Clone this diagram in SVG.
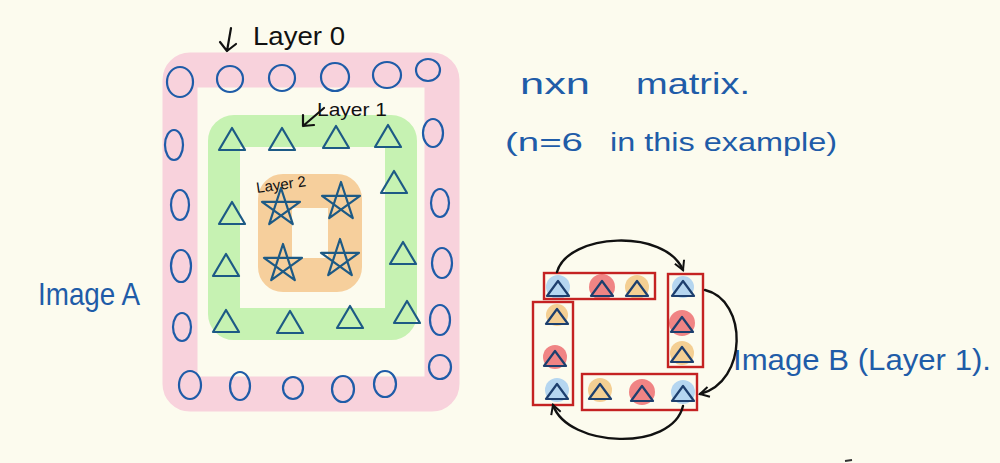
<svg xmlns="http://www.w3.org/2000/svg" xmlns:xlink="http://www.w3.org/1999/xlink" width="1000" height="463" viewBox="0 0 1000 463">
<style>
.hand{font-family:"Liberation Sans","DejaVu Sans",sans-serif;fill:#1f5ca8}
.blk{font-family:"Liberation Sans","DejaVu Sans",sans-serif;fill:#111}
.circ{fill:none;stroke:#1f5ca8;stroke-width:2.2}
.tri{fill:none;stroke:#1d5a85;stroke-width:2.2;stroke-linejoin:round}
.star{fill:none;stroke:#1d5a85;stroke-width:2.2;stroke-linejoin:round}
.bar{fill:none;stroke:#c42222;stroke-width:2.4}
.btri{fill:none;stroke:#1d3f6e;stroke-width:2.2;stroke-linejoin:round}
.conn{fill:none;stroke:#111;stroke-width:2.4;stroke-linecap:round}
.ink{fill:none;stroke:#111;stroke-width:2.2;stroke-linecap:round;stroke-linejoin:round}
</style>
<defs>
<path id="tri" d="M0,-12 L13,10 L-13,10 Z"/>
<path id="star" d="M0,-20 L11.8,16.2 L-19,-6.2 L19,-6.2 L-11.8,16.2 Z"/>
<path id="stri" d="M0,-8 L11,7 L-11,7 Z"/>
<marker id="arr" viewBox="0 0 12 12" refX="10" refY="6" markerWidth="12" markerHeight="12" markerUnits="userSpaceOnUse" orient="auto">
<path d="M1,1 L10,6 L1,11" fill="none" stroke="#111" stroke-width="2"/>
</marker>
</defs>
<rect width="1000" height="463" fill="#fcfbee"/>

<g id="layer0">
<rect x="180" y="70" width="262" height="324" rx="10" fill="none" stroke="#f8d2dc" stroke-width="35"/>
<ellipse class="circ" cx="180" cy="82" rx="13" ry="15"/>
<ellipse class="circ" cx="230" cy="79" rx="13" ry="13"/>
<ellipse class="circ" cx="282" cy="78" rx="13" ry="13"/>
<ellipse class="circ" cx="335" cy="77" rx="14" ry="14"/>
<ellipse class="circ" cx="387" cy="75" rx="14" ry="13"/>
<ellipse class="circ" cx="428" cy="70" rx="12" ry="11"/>
<ellipse class="circ" cx="174" cy="145" rx="9" ry="15"/>
<ellipse class="circ" cx="180" cy="205" rx="9" ry="15"/>
<ellipse class="circ" cx="181" cy="266" rx="10" ry="16"/>
<ellipse class="circ" cx="182" cy="327" rx="9" ry="14"/>
<ellipse class="circ" cx="433" cy="133" rx="10" ry="14"/>
<ellipse class="circ" cx="440" cy="203" rx="9" ry="14"/>
<ellipse class="circ" cx="442" cy="263" rx="10" ry="15"/>
<ellipse class="circ" cx="440" cy="320" rx="10" ry="15"/>
<ellipse class="circ" cx="440" cy="367" rx="11" ry="12"/>
<ellipse class="circ" cx="190" cy="385" rx="11" ry="14"/>
<ellipse class="circ" cx="240" cy="386" rx="10" ry="14"/>
<ellipse class="circ" cx="293" cy="388" rx="10" ry="11"/>
<ellipse class="circ" cx="343" cy="389" rx="11" ry="13"/>
<ellipse class="circ" cx="385" cy="384" rx="11" ry="13"/>
<path class="ink" d="M231,28 L227,51 M220,42 L227,51 L236,44"/>
<text class="blk" x="253" y="45" font-size="26" textLength="92" lengthAdjust="spacingAndGlyphs">Layer 0</text>
</g>

<g id="layer1">
<rect x="224" y="131" width="177" height="193" rx="10" fill="none" stroke="#c6f2b2" stroke-width="32"/>
<use href="#tri" class="tri" x="232" y="140"/>
<use href="#tri" class="tri" x="282" y="140"/>
<use href="#tri" class="tri" x="336" y="138"/>
<use href="#tri" class="tri" x="388" y="137"/>
<use href="#tri" class="tri" x="394" y="183"/>
<use href="#tri" class="tri" x="403" y="254"/>
<use href="#tri" class="tri" x="232" y="214"/>
<use href="#tri" class="tri" x="226" y="266"/>
<use href="#tri" class="tri" x="226" y="322"/>
<use href="#tri" class="tri" x="290" y="323"/>
<use href="#tri" class="tri" x="350" y="318"/>
<use href="#tri" class="tri" x="407" y="313"/>
<path class="ink" d="M324,108 L303,126 M303,115 L303,126 L314,125" stroke-width="1.8"/>
<text class="blk" x="317" y="116" font-size="19" textLength="70" lengthAdjust="spacingAndGlyphs">Layer 1</text>
</g>

<g id="layer2">
<rect x="275" y="191" width="70" height="84" rx="8" fill="none" stroke="#f6cf9c" stroke-width="34"/>
<use href="#star" class="star" x="281" y="208"/>
<use href="#star" class="star" x="341" y="202"/>
<use href="#star" class="star" x="283" y="264"/>
<use href="#star" class="star" x="340" y="259"/>
<text class="blk" x="257" y="193" font-size="15" transform="rotate(-8 257 193)">Layer 2</text>
</g>

<g id="labels">
<text class="hand" x="38" y="305" font-size="32" textLength="102" lengthAdjust="spacingAndGlyphs">Image A</text>
<text class="hand" x="520" y="94" font-size="30" textLength="70" lengthAdjust="spacingAndGlyphs">nxn</text>
<text class="hand" x="636" y="94" font-size="30" textLength="114" lengthAdjust="spacingAndGlyphs">matrix.</text>
<text class="hand" x="505" y="151" font-size="26" textLength="78" lengthAdjust="spacingAndGlyphs">(n=6</text>
<text class="hand" x="610" y="151" font-size="26" textLength="227" lengthAdjust="spacingAndGlyphs">in this example)</text>
<text class="hand" x="733" y="370" font-size="30" textLength="258" lengthAdjust="spacingAndGlyphs">Image B (Layer 1).</text>
</g>

<g id="imageB-top">
<circle cx="558" cy="287" r="12" fill="#b5d6f0"/>
<circle cx="602" cy="287" r="13" fill="#f08484"/>
<circle cx="637" cy="287" r="12" fill="#f4cf93"/>
<rect class="bar" x="544" y="273" width="111" height="26"/>
<use href="#stri" class="btri" x="558" y="289"/>
<use href="#stri" class="btri" x="602" y="289"/>
<use href="#stri" class="btri" x="637" y="289"/>
</g>
<g id="imageB-right">
<circle cx="683" cy="287" r="11" fill="#b5d6f0"/>
<circle cx="682" cy="323" r="13" fill="#f08484"/>
<circle cx="682" cy="353" r="12" fill="#f4cf93"/>
<rect class="bar" x="668" y="274" width="35" height="93"/>
<use href="#stri" class="btri" x="683" y="289"/>
<use href="#stri" class="btri" x="682" y="325"/>
<use href="#stri" class="btri" x="682" y="355"/>
</g>
<g id="imageB-left">
<circle cx="557" cy="315" r="11" fill="#f4cf93"/>
<circle cx="555" cy="357" r="12" fill="#f08484"/>
<circle cx="557" cy="390" r="12" fill="#b5d6f0"/>
<rect class="bar" x="533" y="302" width="40" height="103"/>
<use href="#stri" class="btri" x="557" y="317"/>
<use href="#stri" class="btri" x="555" y="359"/>
<use href="#stri" class="btri" x="557" y="392"/>
</g>
<g id="imageB-bottom">
<circle cx="600" cy="390" r="12" fill="#f4cf93"/>
<circle cx="642" cy="392" r="13" fill="#f08484"/>
<circle cx="683" cy="392" r="12" fill="#b5d6f0"/>
<rect class="bar" x="582" y="374" width="115" height="36"/>
<use href="#stri" class="btri" x="600" y="392"/>
<use href="#stri" class="btri" x="642" y="394"/>
<use href="#stri" class="btri" x="683" y="394"/>
</g>

<g id="connectors">
<path class="conn" d="M557,272 C568,233 665,228 683,270" marker-end="url(#arr)"/>
<path class="conn" d="M705,290 C748,300 748,382 700,394" marker-end="url(#arr)"/>
<path class="conn" d="M683,406 C672,452 568,448 553,405" marker-end="url(#arr)"/>
</g>
<path d="M845,461 L852,460" stroke="#333" stroke-width="2"/>
</svg>
